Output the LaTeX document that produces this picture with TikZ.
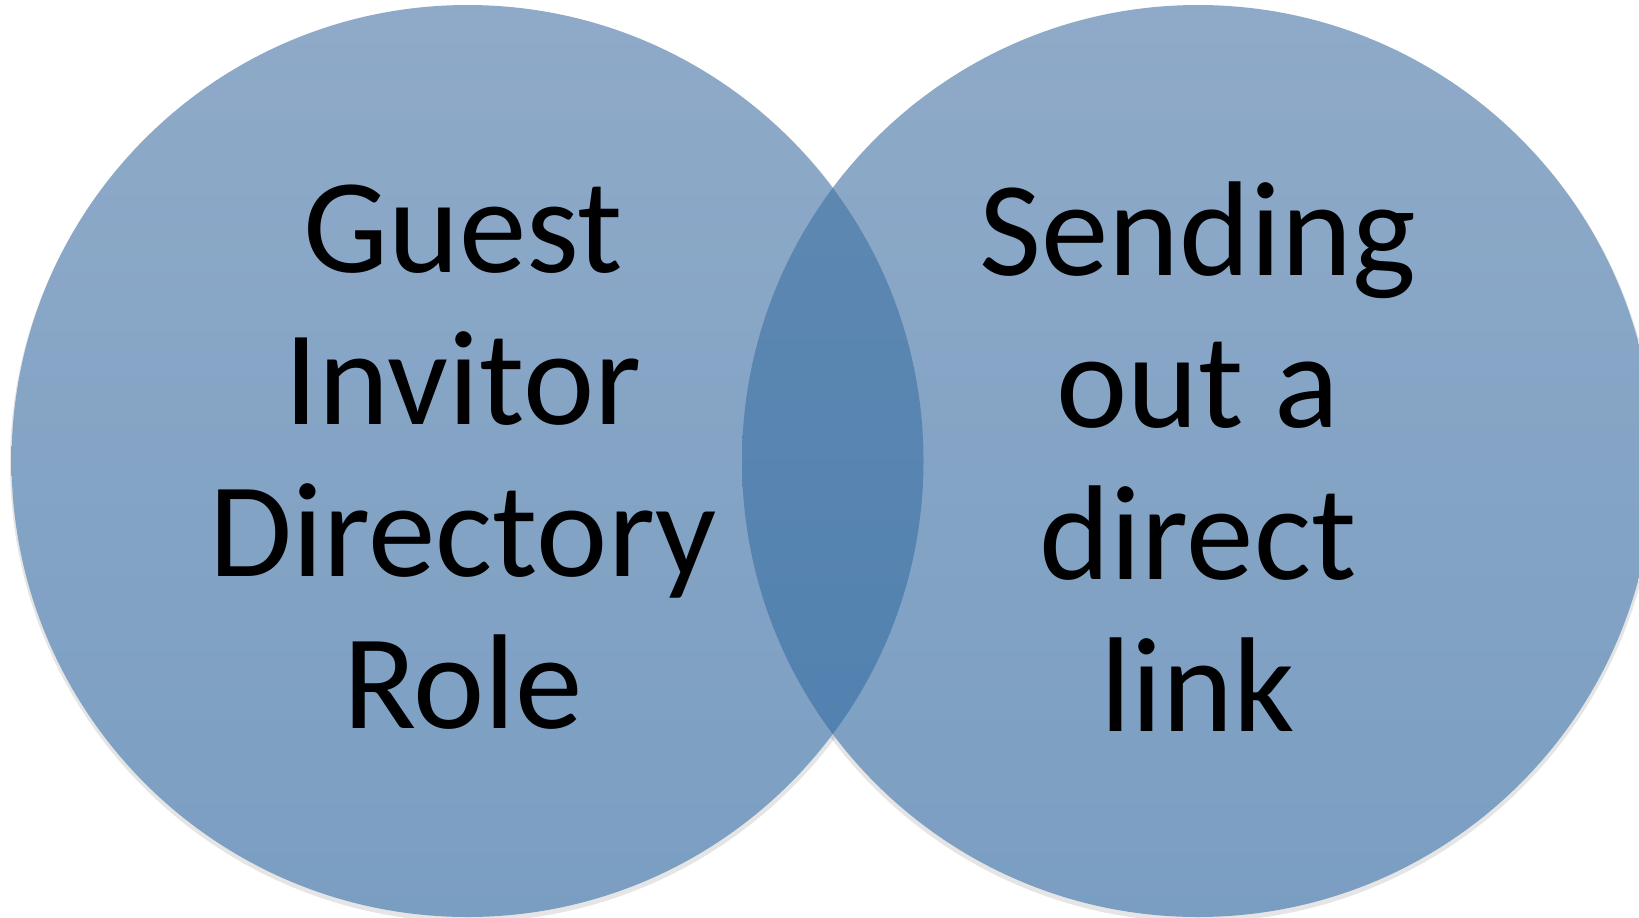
\documentclass[tikz,border=0pt]{standalone}
\usepackage{fontspec}
\setmainfont{Carlito}
\usepackage{tikz}

\definecolor{topblue}{RGB}{143,170,200}
\definecolor{bottomblue}{RGB}{122,158,194}
\definecolor{lenstop}{RGB}{95,137,178}
\definecolor{lensbottom}{RGB}{80,128,175}

\begin{document}
\begin{tikzpicture}[x=0.5pt,y=-0.5pt,node distance=367.5pt]
  \tikzstyle{every node}=[align=center,text=black,inner sep=0pt,
                          font=\fontsize{67.5}{76}\selectfont]
  \tikzstyle{disc}=[top color=topblue,bottom color=bottomblue]
  \tikzstyle{lens}=[top color=lenstop,bottom color=lensbottom]
  \tikzstyle{shadow}=[fill=black,opacity=0.10]

  \clip (0,0) rectangle (1639,917);
  \fill[shadow] (468,464) circle (458);
  \fill[shadow] (1198,464) circle (458);
  \shade[disc] (467.5,461) circle (456);
  \shade[disc] (1198,461) circle (456);
  \begin{scope}
    \clip (467.5,461) circle (456);
    \shade[lens] (1198,461) circle (456);
  \end{scope}

  % anchor=base sits on the last line
  \node[anchor=base] (guest) at (463,728) {Guest\\Invitor\\Directory\\Role};
  \node[anchor=base] (sending) [right of=guest] {Sending\\out a\\direct\\link};
\end{tikzpicture}
\end{document}
